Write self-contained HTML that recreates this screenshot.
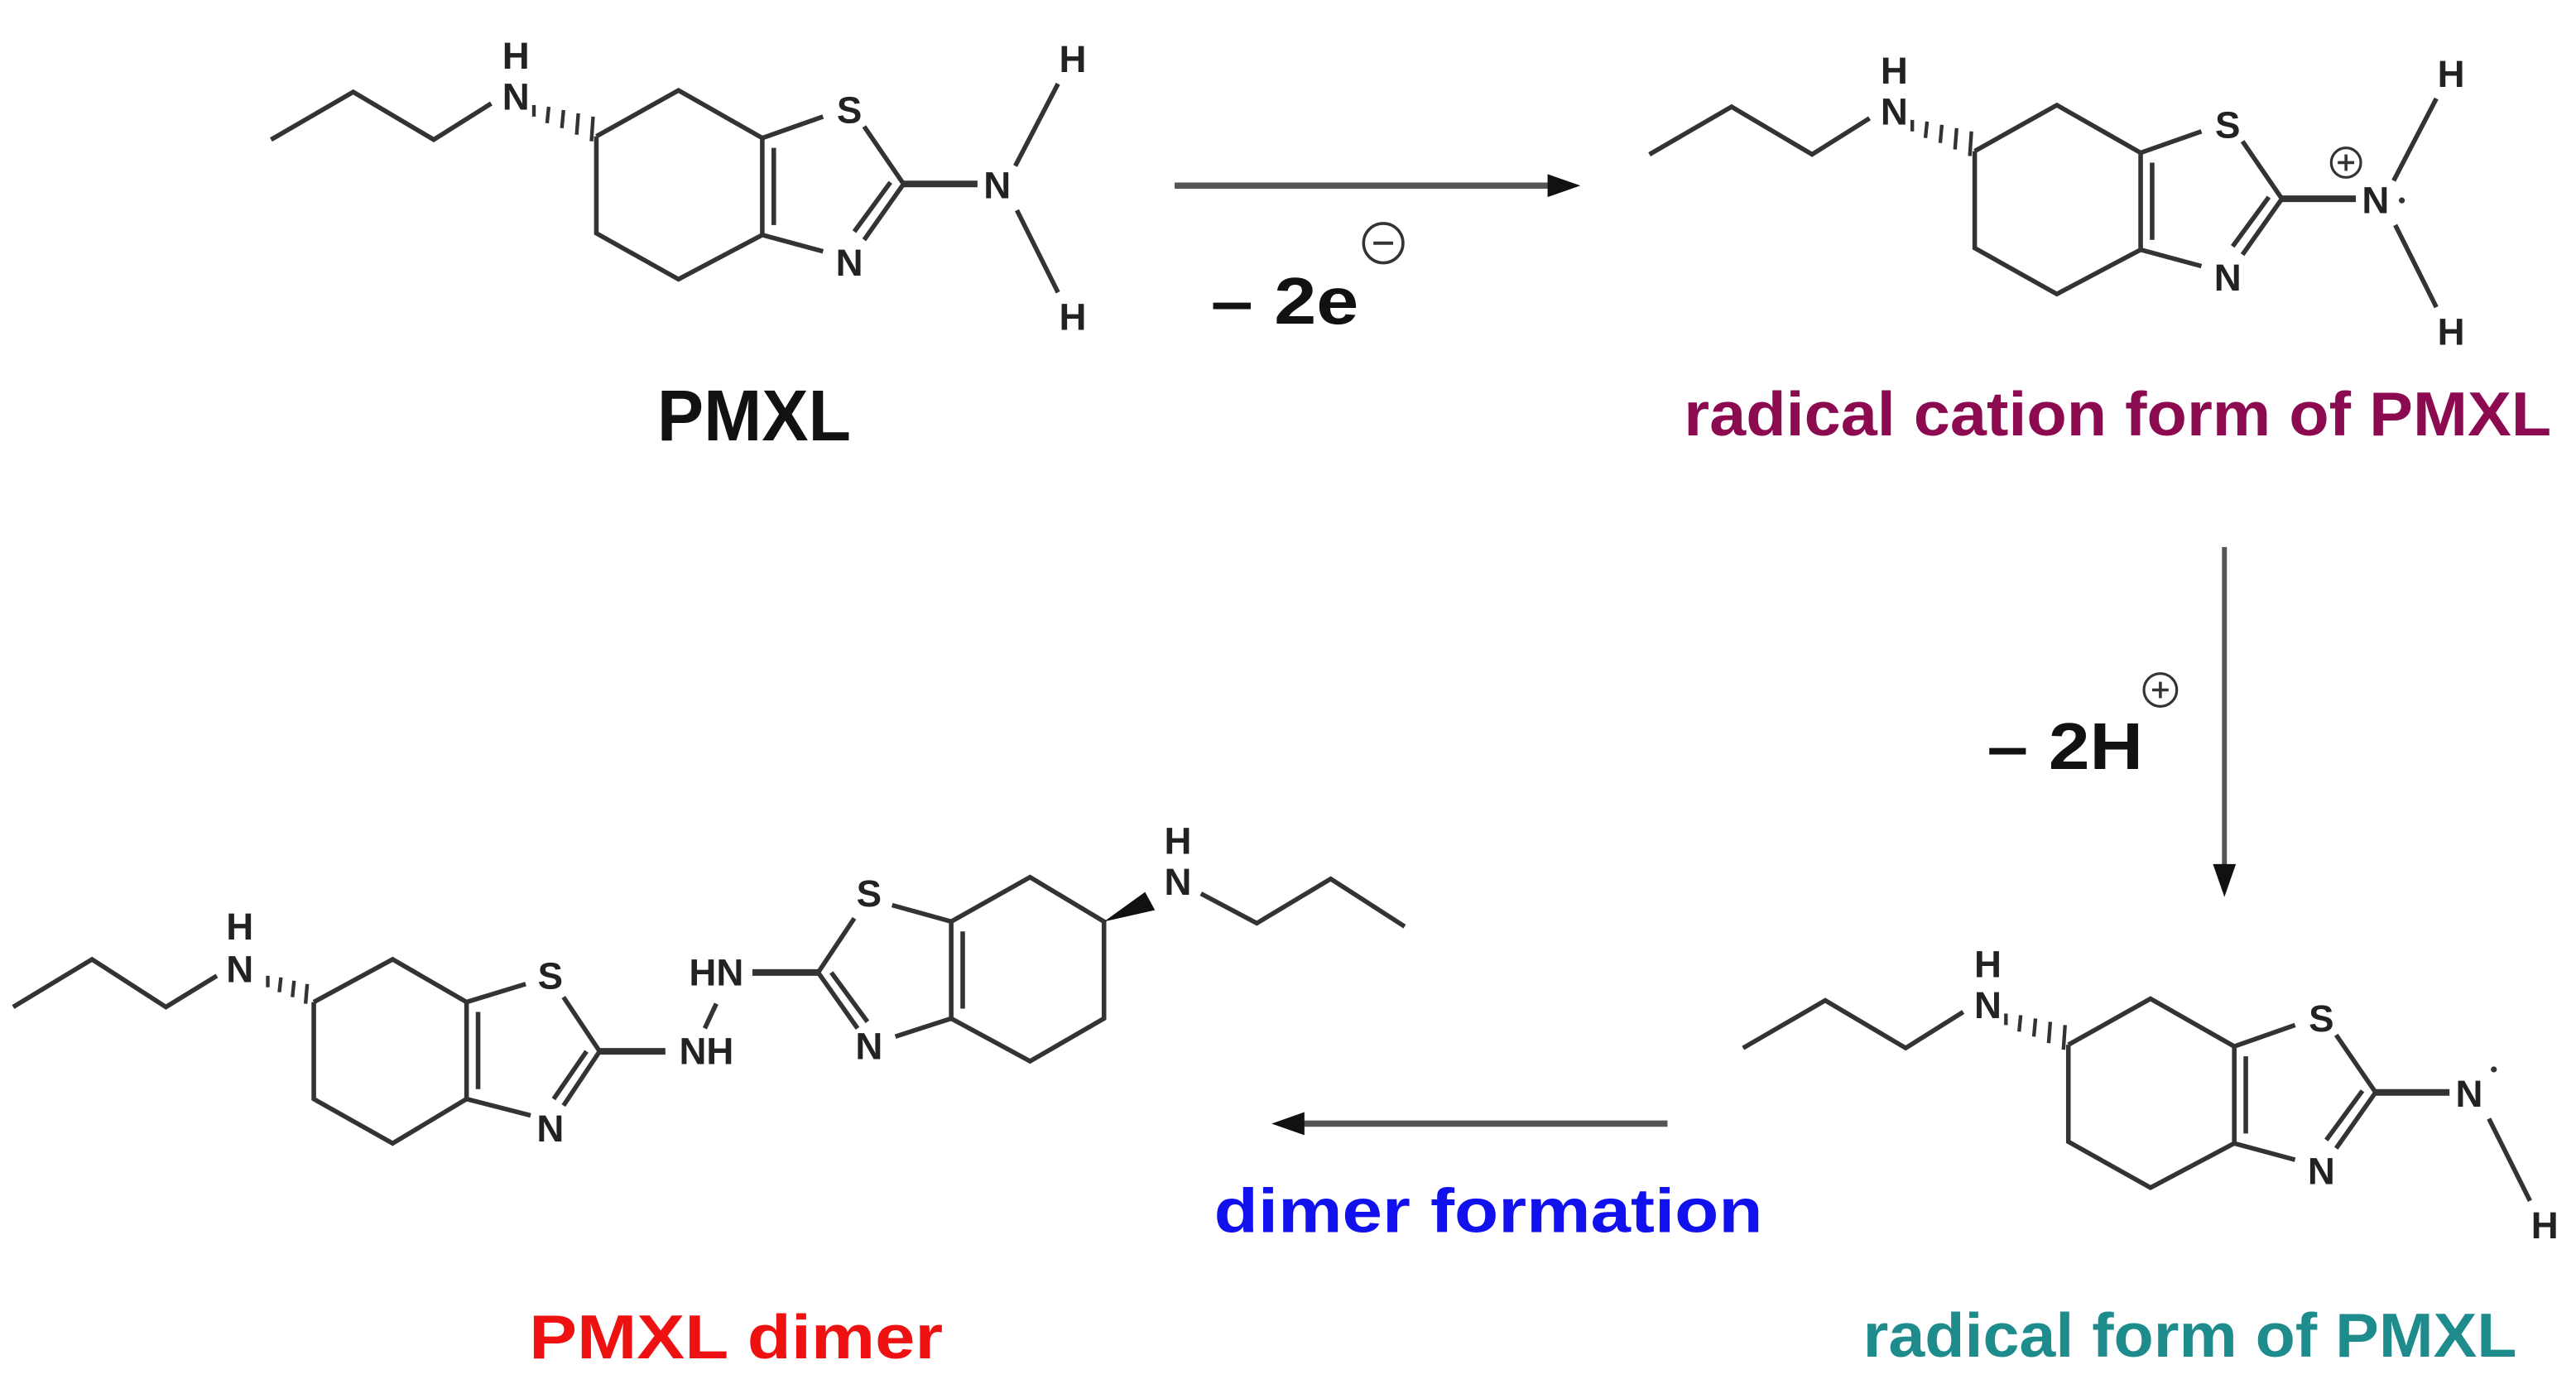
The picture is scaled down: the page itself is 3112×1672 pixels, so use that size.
<!DOCTYPE html>
<html><head><meta charset="utf-8"><style>
html,body{margin:0;padding:0;background:#fff}
svg{display:block}
.b{stroke:#333;stroke-width:2.8;fill:none;stroke-linecap:butt}
.a{font-family:"Liberation Sans Narrow","Liberation Sans",sans-serif;font-size:23px;font-weight:bold;fill:#222;text-anchor:middle;dominant-baseline:central}
.t{font-family:"Liberation Sans Narrow","Liberation Sans",sans-serif;font-weight:bold;text-anchor:middle}
</style></head><body>
<svg width="3112" height="1672" viewBox="0 0 1568 842.5" preserveAspectRatio="none" xmlns="http://www.w3.org/2000/svg">
<defs>
<g id="mono">
<polyline class="b" points="165,85 215,56 264,85 299,63"/>
<text class="a" x="314" y="59">N</text>
<text class="a" x="314" y="34">H</text>
<g stroke="#333" stroke-width="2.2">
<line x1="325" y1="64" x2="325" y2="71"/><line x1="334" y1="65" x2="333" y2="75"/><line x1="343" y1="67" x2="342" y2="78"/><line x1="352" y1="69" x2="351" y2="82"/><line x1="361" y1="71" x2="360" y2="86"/>
</g>
<polyline class="b" points="363,83 413,55 464,84 464,143 413,170 363,142 363,83"/>
<line class="b" x1="471" y1="90" x2="471" y2="137"/>
<line class="b" x1="464" y1="84" x2="501" y2="71"/>
<text class="a" x="517" y="67">S</text>
<line class="b" x1="526" y1="77" x2="550" y2="112"/>
<line class="b" x1="550" y1="112" x2="526" y2="146"/>
<line class="b" x1="542" y1="111" x2="520" y2="141"/>
<text class="a" x="517" y="160">N</text>
<line class="b" x1="464" y1="143" x2="501" y2="153"/>
<line x1="550" y1="112" x2="595" y2="112" stroke="#333" stroke-width="4"/>
<text class="a" x="607" y="113">N</text>
<line class="b" x1="644" y1="178" x2="619" y2="128"/>
</g>
</defs>

<use href="#mono"/>
<line class="b" x1="618" y1="101" x2="644" y2="51"/>
<text class="a" x="653" y="36">H</text>
<text class="a" x="653" y="193">H</text>
<text class="t" x="459" y="268" font-size="44" fill="#111" textLength="118" lengthAdjust="spacingAndGlyphs">PMXL</text>

<g transform="translate(839,9)">
<use href="#mono"/>
<line class="b" x1="618" y1="101" x2="644" y2="51"/>
<text class="a" x="653" y="36">H</text>
<text class="a" x="653" y="193">H</text>
<circle cx="589" cy="90" r="9" fill="none" stroke="#333" stroke-width="1.6"/>
<line x1="584" y1="90" x2="594" y2="90" stroke="#333" stroke-width="1.8"/>
<line x1="589" y1="85" x2="589" y2="95" stroke="#333" stroke-width="1.8"/>
<circle cx="623" cy="113" r="1.8" fill="#333"/>
</g>
<text class="t" x="1289" y="265" font-size="38" fill="#8b0a50" textLength="528" lengthAdjust="spacingAndGlyphs">radical cation form of PMXL</text>

<g transform="translate(896,553)">
<use href="#mono"/>
<text class="a" x="653" y="193">H</text>
<circle cx="622" cy="98" r="1.8" fill="#333"/>
</g>
<text class="t" x="1333" y="826" font-size="38" fill="#1e8c8c" textLength="398" lengthAdjust="spacingAndGlyphs">radical form of PMXL</text>

<polyline class="b" points="8,613 56,584 101,613 132,594"/>
<text class="a" x="146" y="590">N</text>
<text class="a" x="146" y="564">H</text>
<g stroke="#333" stroke-width="2.2">
<line x1="163" y1="594" x2="163" y2="601"/><line x1="171" y1="595" x2="170" y2="604"/><line x1="179" y1="597" x2="178" y2="607"/><line x1="187" y1="599" x2="186" y2="611"/>
</g>
<polyline class="b" points="191,610 239,584 284,610 284,669 239,696 191,669 191,610"/>
<line class="b" x1="291" y1="616" x2="291" y2="663"/>
<line class="b" x1="284" y1="610" x2="320" y2="599"/>
<text class="a" x="335" y="594">S</text>
<line class="b" x1="343" y1="607" x2="365" y2="640"/>
<line class="b" x1="365" y1="640" x2="343" y2="673"/>
<line class="b" x1="357" y1="640" x2="337" y2="669"/>
<text class="a" x="335" y="687">N</text>
<line class="b" x1="284" y1="669" x2="323" y2="679"/>
<line x1="365" y1="640" x2="405" y2="640" stroke="#333" stroke-width="4"/>
<text class="a" x="430" y="640">NH</text>
<line class="b" x1="436" y1="611" x2="429" y2="626" stroke-width="1.8"/>
<text class="a" x="436" y="592">HN</text>
<line x1="458" y1="592" x2="498" y2="592" stroke="#333" stroke-width="4"/>
<line class="b" x1="498" y1="592" x2="520" y2="559"/>
<text class="a" x="529" y="544">S</text>
<line class="b" x1="498" y1="592" x2="522" y2="626"/>
<line class="b" x1="506" y1="592" x2="528" y2="622"/>
<text class="a" x="529" y="637">N</text>
<line class="b" x1="543" y1="551" x2="579" y2="561"/>
<polyline class="b" points="579,561 627,534 672,561 672,620 627,646 579,620 579,561"/>
<line class="b" x1="586" y1="567" x2="586" y2="614"/>
<line class="b" x1="545" y1="631" x2="579" y2="620"/>
<polygon points="672,561 697,543 703,554" fill="#111"/>
<text class="a" x="717" y="537">N</text>
<text class="a" x="717" y="512">H</text>
<polyline class="b" points="731,544 765,562 810,535 855,564"/>
<text class="t" x="448" y="827" font-size="38" fill="#ee1111" textLength="252" lengthAdjust="spacingAndGlyphs">PMXL dimer</text>

<line x1="715" y1="113" x2="945" y2="113" stroke="#555" stroke-width="3.8"/>
<polygon points="962,113 942,106 942,120" fill="#111"/>
<text class="t" x="782" y="197" font-size="40" fill="#111" textLength="90" lengthAdjust="spacingAndGlyphs">– 2e</text>
<circle cx="842" cy="148" r="12" fill="none" stroke="#333" stroke-width="1.8"/>
<line x1="836" y1="148" x2="848" y2="148" stroke="#333" stroke-width="2"/>

<line x1="1354" y1="333" x2="1354" y2="528" stroke="#555" stroke-width="3"/>
<polygon points="1354,546 1347,526 1361,526" fill="#111"/>
<text class="t" x="1257" y="468" font-size="40" fill="#111" textLength="95" lengthAdjust="spacingAndGlyphs">– 2H</text>
<circle cx="1315" cy="420" r="10" fill="none" stroke="#333" stroke-width="1.6"/>
<line x1="1310" y1="420" x2="1320" y2="420" stroke="#333" stroke-width="1.8"/>
<line x1="1315" y1="415" x2="1315" y2="425" stroke="#333" stroke-width="1.8"/>

<line x1="1015" y1="684" x2="792" y2="684" stroke="#555" stroke-width="3.8"/>
<polygon points="774,684 794,677 794,691" fill="#111"/>
<text class="t" x="906" y="750" font-size="38" fill="#1111ee" textLength="334" lengthAdjust="spacingAndGlyphs">dimer formation</text>
</svg>
</body></html>
